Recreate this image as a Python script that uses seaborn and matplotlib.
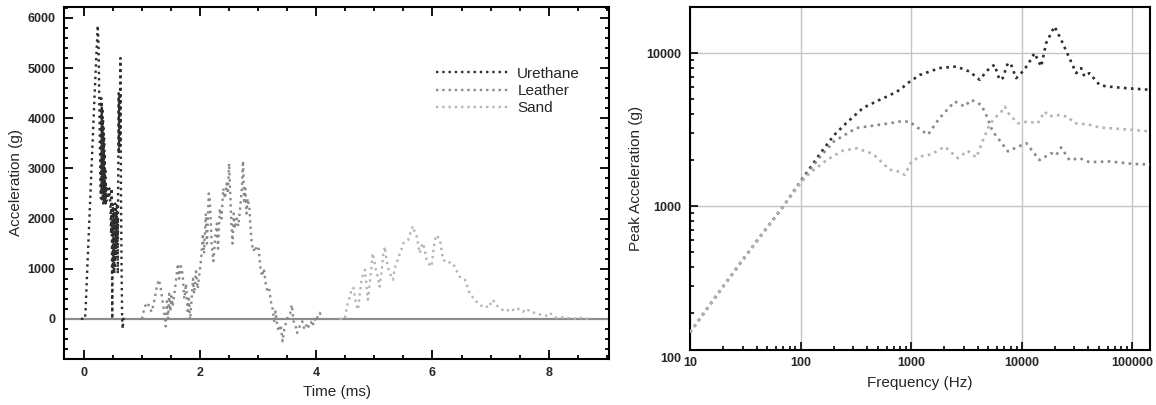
import pandas as pd
import numpy as np
import matplotlib
matplotlib.use("Agg")
import matplotlib.pyplot as plt
import matplotlib.ticker as mticker
import matplotlib.transforms as mtransforms
import seaborn as sns

# ========== DATA ==========
# Left: acceleration time histories (time in ms, acceleration in g)
urethane_t = [-0.05, 0.00, 0.02, 0.03, 0.06, 0.10, 0.14, 0.18, 0.21, 0.24, 0.255, 0.27, 0.285, 0.295,
              0.30, 0.305, 0.31, 0.315, 0.32, 0.325, 0.33, 0.335, 0.34, 0.345, 0.35, 0.355, 0.36,
              0.365, 0.37, 0.375, 0.38, 0.39, 0.40, 0.42, 0.44, 0.46, 0.47, 0.48, 0.485, 0.49,
              0.495, 0.50, 0.505, 0.51, 0.515, 0.52, 0.525, 0.53, 0.535, 0.54, 0.545, 0.55, 0.555,
              0.56, 0.565, 0.57, 0.575, 0.58, 0.585, 0.59, 0.595, 0.60, 0.605, 0.61, 0.615, 0.62,
              0.625, 0.63, 0.635, 0.64, 0.65, 0.66, 0.67, 0.68, 0.70]
urethane_a = [0, 0, 0, 150, 1000, 2100, 3200, 4300, 5100, 5850, 5400, 4000, 2800, 2400,
              4400, 2500, 4300, 2400, 4200, 2350, 4000, 2300, 3800, 2400, 3600, 2300, 3300,
              2400, 3000, 2300, 2700, 2350, 2650, 2400, 2600, 2200, 1700, 2600, 1200, 0,
              1500, 2300, 1000, 2200, 950, 2100, 900, 2000, 1000, 2300, 1200, 2200, 1300,
              2100, 1500, 2300, 1600, 2000, 900, 2400, 3300, 4500, 3300, 4400, 3400, 4500,
              3500, 5200, 4000, 2500, 1000, 0, -200, 0, 0]

leather_t = [1.00, 1.03, 1.07, 1.10, 1.14, 1.17, 1.21, 1.25, 1.29, 1.32, 1.35, 1.38, 1.41, 1.43,
             1.45, 1.47, 1.49, 1.51, 1.53, 1.56, 1.59, 1.62, 1.64, 1.67, 1.70, 1.73, 1.76, 1.79,
             1.81, 1.83, 1.85, 1.88, 1.90, 1.93, 1.96, 1.99, 2.02, 2.05, 2.07, 2.10, 2.12, 2.15,
             2.17, 2.20, 2.23, 2.26, 2.29, 2.31, 2.34, 2.37, 2.40, 2.43, 2.46, 2.48, 2.50, 2.52,
             2.54, 2.56, 2.58, 2.60, 2.63, 2.66, 2.69, 2.72, 2.74, 2.76, 2.78, 2.80, 2.82, 2.85,
             2.87, 2.89, 2.92, 2.95, 2.98, 3.01, 3.04, 3.07, 3.10, 3.13, 3.16, 3.19, 3.22, 3.25,
             3.28, 3.30, 3.33, 3.36, 3.39, 3.42, 3.45, 3.48, 3.51, 3.55, 3.58, 3.61, 3.64, 3.67,
             3.70, 3.73, 3.76, 3.79, 3.82, 3.85, 3.88, 3.91, 3.94, 3.97, 4.00, 4.03, 4.06, 4.10]
leather_a = [0, 150, 300, 320, 200, 140, 350, 600, 780, 650, 400, 150, -150, 350,
             0, 500, 150, 450, 250, 500, 800, 1100, 800, 1050, 900, 400, 700, 100,
             400, -20, 300, 800, 500, 950, 600, 900, 1200, 1700, 1300, 2100, 1500, 2500,
             2350, 1500, 1150, 1600, 1900, 1400, 2200, 2000, 2600, 2400, 2700, 2500, 3100, 2500,
             1900, 1500, 2100, 1800, 2000, 1850, 2200, 2600, 3150, 2300, 2600, 2100, 2400, 2200,
             1800, 1500, 1350, 1450, 1350, 1400, 1000, 850, 1000, 700, 550, 600, 350, 200,
             -80, 150, -150, -250, -120, -450, -200, -80, 50, 100, 280, -50, -100, -280,
             -200, -100, -50, -180, -100, -200, -120, -60, -150, 0, -50, 80, 120, 0]

sand_t = [4.40, 4.49, 4.53, 4.58, 4.61, 4.64, 4.67, 4.70, 4.72, 4.75, 4.78, 4.81, 4.84, 4.87,
          4.89, 4.92, 4.95, 4.97, 5.00, 5.03, 5.06, 5.09, 5.12, 5.15, 5.18, 5.21, 5.24, 5.27,
          5.30, 5.32, 5.35, 5.38, 5.41, 5.44, 5.47, 5.50, 5.54, 5.58, 5.61, 5.64, 5.66, 5.69,
          5.73, 5.76, 5.78, 5.81, 5.84, 5.87, 5.90, 5.94, 5.97, 5.99, 6.02, 6.05, 6.07, 6.10,
          6.13, 6.16, 6.18, 6.22, 6.27, 6.31, 6.35, 6.40, 6.44, 6.47, 6.51, 6.56, 6.60, 6.64,
          6.70, 6.76, 6.82, 6.87, 6.92, 6.96, 7.00, 7.04, 7.08, 7.13, 7.17, 7.21, 7.27, 7.33,
          7.39, 7.45, 7.50, 7.56, 7.60, 7.64, 7.70, 7.76, 7.82, 7.88, 7.95, 8.02, 8.08, 8.14,
          8.22, 8.31, 8.40, 8.48, 8.55, 8.62, 8.68, 8.74]
sand_a = [0, 0, 250, 450, 600, 620, 400, 250, 180, 500, 780, 900, 980, 600,
          380, 700, 1020, 1310, 1150, 950, 840, 640, 900, 1250, 1440, 1180, 1000, 920,
          800, 780, 1000, 1110, 1200, 1310, 1400, 1510, 1550, 1570, 1680, 1770, 1850, 1750,
          1640, 1450, 1310, 1450, 1510, 1350, 1180, 1100, 1040, 1100, 1400, 1600, 1670, 1620,
          1570, 1350, 1180, 1150, 1110, 1130, 1110, 1000, 900, 840, 820, 780, 650, 520,
          420, 340, 280, 240, 260, 220, 300, 380, 300, 240, 200, 180, 200, 140,
          180, 220, 180, 140, 200, 180, 140, 120, 100, 80, 60, 120, 60, 20,
          30, 20, 10, 0, 20, 20, -10, -20]

# Right: peak acceleration spectra (frequency in Hz, peak acceleration in g)
urethane_f = [10, 20, 40, 70, 100, 150, 200, 260, 370, 520, 640, 790, 970, 1200, 1810, 2560,
              3380, 4170, 4600, 5130, 5690, 6310, 6750, 7500, 7980, 8930, 9910, 11380, 13080,
              15030, 16670, 19820, 22790, 27100, 31150, 34540, 37000, 41050, 50550, 58100,
              88100, 145000]
urethane_pk = [150, 300, 590, 1000, 1450, 2200, 2900, 3500, 4400, 4950, 5300, 5750, 6500, 7200,
               7980, 8170, 7580, 6690, 7300, 7980, 8390, 6690, 6860, 8600, 8500, 6860, 7400,
               8390, 10000, 8170, 11620, 14930, 12210, 9270, 7400, 7980, 7040, 7400, 6210,
               6060, 5900, 5760]

leather_f = [10, 20, 40, 70, 100, 150, 200, 320, 640, 790, 970, 1110, 1420, 1810, 2480, 3050,
             3500, 4320, 4810, 5360, 5900, 6310, 7510, 8630, 11020, 14500, 18490, 20500,
             22790, 27100, 33380, 41050, 62300, 101000, 145000]
leather_pk = [150, 300, 590, 1000, 1440, 2100, 2650, 3240, 3480, 3570, 3570, 3310, 2930, 3760,
              4830, 4480, 4950, 4590, 3900, 3200, 2850, 2700, 2280, 2390, 2580, 2000, 2220,
              2150, 2420, 2000, 2060, 1940, 1960, 1890, 1870]

sand_f = [10, 20, 40, 70, 100, 121, 172, 240, 320, 450, 641, 789, 876, 1010, 1200, 1520, 2010,
          2650, 3250, 3890, 4470, 5120, 5690, 6500, 7020, 7790, 9250, 11380, 14020, 16110,
          17880, 20500, 26150, 30060, 39600, 50550, 101000, 145000]
sand_pk = [150, 300, 590, 1000, 1420, 1640, 2000, 2300, 2390, 2200, 1730, 1680, 1600, 1960,
           2110, 2180, 2450, 2060, 2300, 2080, 2700, 3400, 3760, 4100, 4480, 3950, 3480, 3570,
           3480, 4150, 3850, 3950, 3850, 3480, 3430, 3270, 3150, 3080]

materials = ["Urethane", "Leather", "Sand"]
colors = {"Urethane": "#2e2e2e", "Leather": "#8a8a8a", "Sand": "#b4b4b4"}

time_df = pd.concat([
    pd.DataFrame({"t": urethane_t, "a": urethane_a, "material": "Urethane"}),
    pd.DataFrame({"t": leather_t, "a": leather_a, "material": "Leather"}),
    pd.DataFrame({"t": sand_t, "a": sand_a, "material": "Sand"}),
])
srs_df = pd.concat([
    pd.DataFrame({"f": urethane_f, "pk": urethane_pk, "material": "Urethane"}),
    pd.DataFrame({"f": leather_f, "pk": leather_pk, "material": "Leather"}),
    pd.DataFrame({"f": sand_f, "pk": sand_pk, "material": "Sand"}),
])

# ========== STYLE ==========
sns.set_style("ticks")
plt.rcParams["font.family"] = ["Liberation Sans", "DejaVu Sans"]

fig = plt.figure(figsize=(11.56, 4.05), dpi=100)
ax1 = fig.add_axes([0.0554, 0.1136, 0.4715, 0.8694])
ax2 = fig.add_axes([0.5969, 0.1358, 0.3979, 0.8469])

# ========== LEFT: time history ==========
ax1.axhline(0, color="#8c8c8c", lw=1.6, zorder=1)
for m in materials:
    d = time_df[time_df["material"] == m]
    sns.lineplot(data=d, x="t", y="a", ax=ax1, color=colors[m], linestyle=":",
                 lw=1.7, estimator=None, sort=False, label=m, zorder=2)

ax1.set_xlim(-0.34, 9.04)
ax1.set_ylim(-800, 6220)
ax1.xaxis.set_major_locator(mticker.MultipleLocator(2))
ax1.xaxis.set_minor_locator(mticker.MultipleLocator(0.5))
ax1.yaxis.set_major_locator(mticker.MultipleLocator(1000))
ax1.yaxis.set_minor_locator(mticker.MultipleLocator(200))
ax1.tick_params(which="both", direction="in", top=True, right=True, width=1.3, color="black")
ax1.tick_params(which="major", length=6.5)
ax1.tick_params(which="minor", length=3)
ax1.tick_params(axis="y", pad=6)
ax1.tick_params(axis="x", pad=6)
ax1.set_xlabel("Time (ms)", fontsize=11, labelpad=4)
ax1.set_ylabel("Acceleration (g)", fontsize=11, labelpad=3)

leg = ax1.legend(loc="upper left", bbox_to_anchor=(0.683, 0.83), frameon=False,
                 fontsize=11, handlelength=4.7, handletextpad=0.6, labelspacing=0.22,
                 borderpad=0, borderaxespad=0)
for h in leg.get_lines():
    h.set_linewidth(1.7)

# ========== RIGHT: peak acceleration spectrum ==========
for m in materials:
    d = srs_df[srs_df["material"] == m]
    sns.lineplot(data=d, x="f", y="pk", ax=ax2, color=colors[m], linestyle=":",
                 lw=1.9, estimator=None, sort=False, zorder=3)

ax2.set_xscale("log")
ax2.set_yscale("log")
ax2.set_xlim(10, 145000)
ax2.set_ylim(115, 20000)
ax2.xaxis.set_major_locator(mticker.LogLocator(base=10))
ax2.xaxis.set_major_formatter(mticker.FuncFormatter(lambda v, p: f"{v:.0f}"))
ax2.xaxis.set_minor_locator(mticker.LogLocator(base=10, subs=np.arange(2, 10)))
ax2.xaxis.set_minor_formatter(mticker.NullFormatter())
ax2.set_yticks([1000, 10000])
ax2.yaxis.set_major_formatter(mticker.FuncFormatter(lambda v, p: f"{v:.0f}"))
ax2.yaxis.set_minor_locator(mticker.LogLocator(base=10, subs=np.arange(2, 10)))
ax2.yaxis.set_minor_formatter(mticker.NullFormatter())
ax2.grid(True, which="major", color="#c4c4c4", lw=1.0)
ax2.tick_params(which="both", direction="in", top=False, right=False, width=1.2, color="black")
ax2.tick_params(which="major", length=6)
ax2.tick_params(which="minor", length=3)
ax2.tick_params(axis="y", pad=6)
ax2.tick_params(axis="x", pad=5)
ax2.set_xlabel("Frequency (Hz)", fontsize=11, labelpad=5)
ax2.set_ylabel("Peak Acceleration (g)", fontsize=11, labelpad=3)
ax2.get_legend() and ax2.get_legend().remove()

# bottom "100" label sits just under the frame in the original
trans = mtransforms.blended_transform_factory(ax2.transAxes, ax2.transData)
ax2.text(-0.0185, 100, "100", transform=trans, ha="right", va="center",
         fontsize=9, fontweight="bold", clip_on=False)

for ax in (ax1, ax2):
    for s in ax.spines.values():
        s.set_visible(True)
        s.set_linewidth(1.5)
        s.set_color("black")
    for lab in ax.get_xticklabels() + ax.get_yticklabels():
        lab.set_fontsize(9)
        lab.set_fontweight("bold")

fig.savefig("out.png", dpi=100)
